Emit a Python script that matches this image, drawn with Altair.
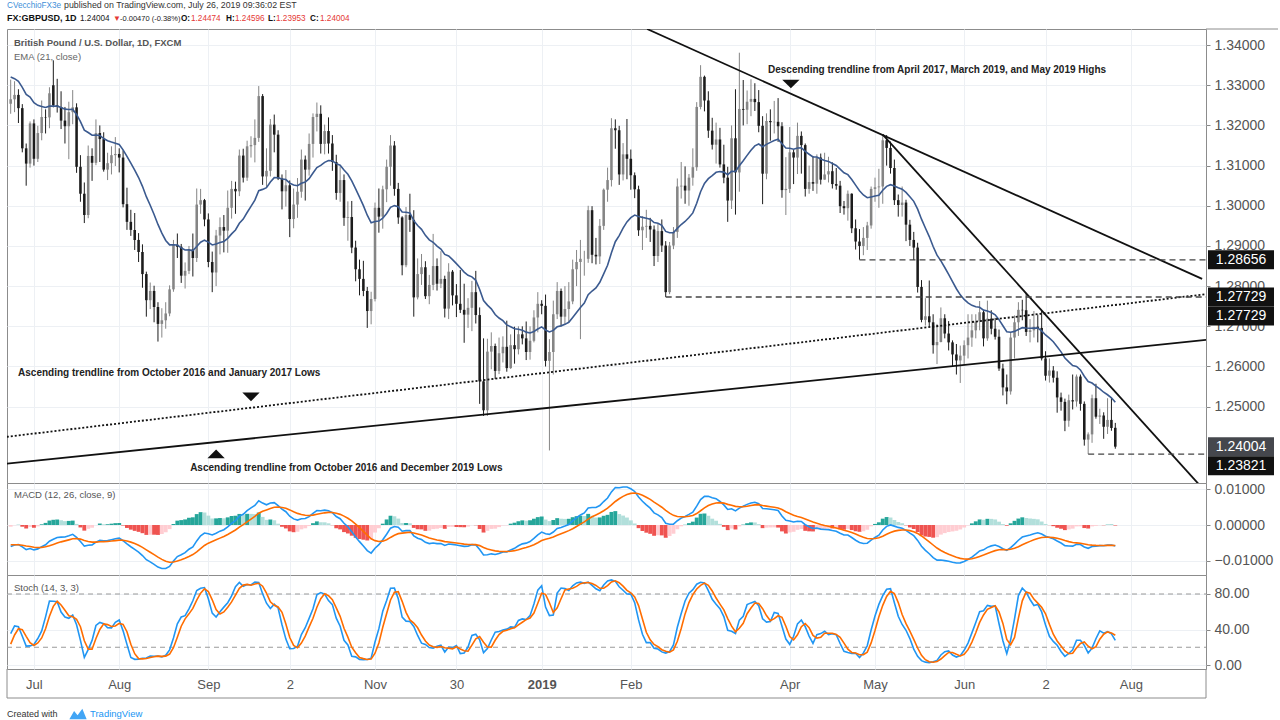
import altair as alt
import numpy as np
import pandas as pd

FONT = "Liberation Sans"
GRID = "#edf0f4"
AXC = "#555555"

# ---------------- warm-up history (May 1 - Jun 21, 2018) only to prime the indicators ----------------
pre_close = [1.3611, 1.3596, 1.3591, 1.3530, 1.3530, 1.3567, 1.3533, 1.3545, 1.3542, 1.3560,
             1.3488, 1.3510, 1.3513, 1.3465, 1.3453, 1.3427, 1.3374, 1.3367, 1.3310, 1.3320,
             1.3238, 1.3299, 1.3294, 1.3339, 1.3337, 1.3392, 1.3420, 1.3420, 1.3409, 1.3376,
             1.3363, 1.3398, 1.3262, 1.3274, 1.3241, 1.3173, 1.3180, 1.3254]
pre_high = [1.3775, 1.3656, 1.3618, 1.3604, 1.3566, 1.3586, 1.3592, 1.3590, 1.3570, 1.3613,
            1.3580, 1.3546, 1.3555, 1.3520, 1.3490, 1.3477, 1.3432, 1.3406, 1.3380, 1.3340,
            1.3323, 1.3313, 1.3330, 1.3350, 1.3370, 1.3415, 1.3472, 1.3470, 1.3433, 1.3437,
            1.3416, 1.3448, 1.3440, 1.3290, 1.3296, 1.3259, 1.3203, 1.3290]
pre_low = [1.3606, 1.3576, 1.3533, 1.3486, 1.3489, 1.3496, 1.3460, 1.3451, 1.3510, 1.3525,
           1.3460, 1.3450, 1.3480, 1.3448, 1.3388, 1.3400, 1.3305, 1.3320, 1.3301, 1.3290,
           1.3204, 1.3230, 1.3256, 1.3255, 1.3300, 1.3305, 1.3385, 1.3391, 1.3370, 1.3360,
           1.3352, 1.3340, 1.3248, 1.3205, 1.3230, 1.3160, 1.3102, 1.3143]

# ---------------- daily candles (open, high, low, close) ----------------
jun18 = [(1.3254, 1.3314, 1.3229, 1.3265), (1.3265, 1.3310, 1.3233, 1.3276), (1.3276, 1.3290, 1.3206, 1.3243),
         (1.3243, 1.3253, 1.3133, 1.3143), (1.3143, 1.3155, 1.3050, 1.3105), (1.3105, 1.3210, 1.3095, 1.3205)]
jul18 = [(1.3205, 1.3215, 1.3100, 1.3117), (1.3117, 1.3199, 1.3109, 1.3181), (1.3181, 1.3262, 1.3163, 1.3221),
         (1.3221, 1.3240, 1.3180, 1.3220), (1.3220, 1.3295, 1.3193, 1.3280), (1.3300, 1.3362, 1.3245, 1.3250),
         (1.3250, 1.3316, 1.3232, 1.3246), (1.3246, 1.3285, 1.3191, 1.3212), (1.3212, 1.3246, 1.3155, 1.3198),
         (1.3198, 1.3259, 1.3116, 1.3233), (1.3233, 1.3288, 1.3203, 1.3245), (1.3245, 1.3255, 1.3082, 1.3097),
         (1.3097, 1.3126, 1.3010, 1.3030), (1.3030, 1.3058, 1.2957, 1.2977), (1.2977, 1.3150, 1.2969, 1.3124),
         (1.3124, 1.3143, 1.3062, 1.3107), (1.3107, 1.3215, 1.3101, 1.3181), (1.3181, 1.3200, 1.3109, 1.3166),
         (1.3166, 1.3183, 1.3085, 1.3090), (1.3090, 1.3132, 1.3064, 1.3106), (1.3106, 1.3148, 1.3078, 1.3126),
         (1.3126, 1.3171, 1.3099, 1.3129)]
aug18 = [(1.3129, 1.3143, 1.3083, 1.3120), (1.3120, 1.3138, 1.2996, 1.3004), (1.3004, 1.3045, 1.2940, 1.2960),
         (1.2960, 1.2990, 1.2925, 1.2940), (1.2940, 1.2982, 1.2890, 1.2915), (1.2915, 1.2932, 1.2860, 1.2885),
         (1.2885, 1.2904, 1.2796, 1.2830), (1.2830, 1.2836, 1.2724, 1.2765), (1.2765, 1.2809, 1.2743, 1.2788),
         (1.2788, 1.2801, 1.2710, 1.2748), (1.2748, 1.2760, 1.2662, 1.2706), (1.2706, 1.2745, 1.2672, 1.2715),
         (1.2715, 1.2760, 1.2694, 1.2732), (1.2732, 1.2802, 1.2725, 1.2792), (1.2792, 1.2915, 1.2786, 1.2903),
         (1.2903, 1.2931, 1.2870, 1.2898), (1.2898, 1.2905, 1.2808, 1.2826), (1.2826, 1.2859, 1.2794, 1.2838),
         (1.2838, 1.2900, 1.2830, 1.2891), (1.2891, 1.2931, 1.2824, 1.2870), (1.2870, 1.3043, 1.2860, 1.3003),
         (1.3003, 1.3042, 1.2980, 1.3014), (1.3014, 1.3017, 1.2949, 1.2966)]
sep18 = [(1.2966, 1.2981, 1.2847, 1.2860), (1.2860, 1.2886, 1.2785, 1.2834), (1.2834, 1.2940, 1.2800, 1.2926),
         (1.2926, 1.2971, 1.2879, 1.2947), (1.2947, 1.2977, 1.2884, 1.2938), (1.2938, 1.3038, 1.2883, 1.2995),
         (1.2995, 1.3062, 1.2968, 1.3042), (1.3042, 1.3060, 1.2980, 1.3036), (1.3036, 1.3140, 1.3024, 1.3125),
         (1.3125, 1.3142, 1.3058, 1.3070), (1.3070, 1.3162, 1.3062, 1.3148), (1.3148, 1.3173, 1.3120, 1.3151),
         (1.3151, 1.3215, 1.3108, 1.3169), (1.3169, 1.3298, 1.3159, 1.3273), (1.3273, 1.3278, 1.3052, 1.3073),
         (1.3073, 1.3143, 1.3047, 1.3087), (1.3087, 1.3216, 1.3073, 1.3202), (1.3202, 1.3227, 1.3133, 1.3177),
         (1.3177, 1.3188, 1.3064, 1.3068), (1.3068, 1.3078, 1.2991, 1.3036)]
oct18 = [(1.3036, 1.3089, 1.2998, 1.3051), (1.3051, 1.3063, 1.2922, 1.2967), (1.2967, 1.3043, 1.2944, 1.3003),
         (1.3003, 1.3069, 1.2970, 1.3035), (1.3035, 1.3140, 1.3020, 1.3115), (1.3115, 1.3125, 1.3013, 1.3090),
         (1.3090, 1.3180, 1.3075, 1.3154), (1.3154, 1.3230, 1.3120, 1.3221), (1.3221, 1.3257, 1.3185, 1.3229),
         (1.3229, 1.3250, 1.3130, 1.3154), (1.3154, 1.3202, 1.3128, 1.3186), (1.3186, 1.3220, 1.3130, 1.3155),
         (1.3155, 1.3176, 1.3087, 1.3109), (1.3109, 1.3127, 1.3015, 1.3032), (1.3032, 1.3098, 1.3010, 1.3064),
         (1.3064, 1.3078, 1.2950, 1.2970), (1.2970, 1.3011, 1.2913, 1.2972), (1.2972, 1.3012, 1.2882, 1.2896),
         (1.2896, 1.2913, 1.2812, 1.2842), (1.2842, 1.2866, 1.2777, 1.2818), (1.2818, 1.2863, 1.2775, 1.2788),
         (1.2788, 1.2798, 1.2696, 1.2738), (1.2738, 1.2786, 1.2705, 1.2768)]
nov18 = [(1.2768, 1.3008, 1.2762, 1.2995), (1.2995, 1.3043, 1.2933, 1.2973), (1.2973, 1.3050, 1.2943, 1.3041),
         (1.3041, 1.3115, 1.3009, 1.3097), (1.3097, 1.3176, 1.3050, 1.3150), (1.3150, 1.3161, 1.3025, 1.3042),
         (1.3042, 1.3057, 1.2955, 1.2971), (1.2971, 1.2974, 1.2827, 1.2852), (1.2852, 1.2997, 1.2847, 1.2977),
         (1.2977, 1.3030, 1.2935, 1.2965), (1.2965, 1.2989, 1.2724, 1.2772), (1.2772, 1.2869, 1.2767, 1.2830),
         (1.2830, 1.2880, 1.2803, 1.2847), (1.2847, 1.2862, 1.2768, 1.2775), (1.2775, 1.2828, 1.2755, 1.2803),
         (1.2803, 1.2930, 1.2790, 1.2850), (1.2850, 1.2869, 1.2789, 1.2806), (1.2806, 1.2887, 1.2795, 1.2818),
         (1.2818, 1.2826, 1.2722, 1.2744), (1.2744, 1.2857, 1.2718, 1.2836), (1.2836, 1.2840, 1.2752, 1.2777),
         (1.2777, 1.2805, 1.2723, 1.2756)]
dec18 = [(1.2756, 1.2840, 1.2733, 1.2741), (1.2741, 1.2806, 1.2659, 1.2729), (1.2729, 1.2770, 1.2696, 1.2746),
         (1.2746, 1.2813, 1.2688, 1.2785), (1.2785, 1.2838, 1.2707, 1.2728), (1.2728, 1.2747, 1.2507, 1.2563),
         (1.2563, 1.2670, 1.2477, 1.2491), (1.2491, 1.2669, 1.2477, 1.2637), (1.2637, 1.2685, 1.2593, 1.2651),
         (1.2651, 1.2657, 1.2569, 1.2589), (1.2589, 1.2672, 1.2581, 1.2633), (1.2633, 1.2675, 1.2610, 1.2649),
         (1.2649, 1.2714, 1.2587, 1.2596), (1.2596, 1.2680, 1.2594, 1.2653), (1.2653, 1.2699, 1.2607, 1.2643),
         (1.2643, 1.2700, 1.2630, 1.2680), (1.2680, 1.2700, 1.2655, 1.2670), (1.2670, 1.2712, 1.2616, 1.2636),
         (1.2636, 1.2700, 1.2617, 1.2664), (1.2664, 1.2740, 1.2660, 1.2722), (1.2722, 1.2785, 1.2685, 1.2756)]
jan19 = [(1.2756, 1.2765, 1.2730, 1.2751), (1.2751, 1.2779, 1.2600, 1.2614), (1.2614, 1.2668, 1.2391, 1.2636),
         (1.2636, 1.2764, 1.2580, 1.2730), (1.2730, 1.2810, 1.2718, 1.2788), (1.2788, 1.2794, 1.2700, 1.2724),
         (1.2724, 1.2800, 1.2703, 1.2743), (1.2743, 1.2810, 1.2710, 1.2762), (1.2762, 1.2866, 1.2755, 1.2842),
         (1.2842, 1.2890, 1.2800, 1.2860), (1.2860, 1.2915, 1.2668, 1.2868), (1.2868, 1.2888, 1.2826, 1.2868),
         (1.2868, 1.3000, 1.2858, 1.2989), (1.2989, 1.2999, 1.2857, 1.2878), (1.2878, 1.2920, 1.2854, 1.2874),
         (1.2874, 1.2967, 1.2855, 1.2950), (1.2950, 1.3043, 1.2940, 1.3040), (1.3040, 1.3095, 1.3010, 1.3064),
         (1.3064, 1.3218, 1.3048, 1.3193), (1.3193, 1.3215, 1.3142, 1.3188), (1.3188, 1.3199, 1.3052, 1.3078),
         (1.3078, 1.3156, 1.3063, 1.3128), (1.3128, 1.3216, 1.3066, 1.3117)]
feb19 = [(1.3117, 1.3140, 1.3040, 1.3076), (1.3076, 1.3083, 1.3019, 1.3041), (1.3041, 1.3050, 1.2925, 1.2939),
         (1.2939, 1.2974, 1.2890, 1.2948), (1.2948, 1.2990, 1.2920, 1.2950), (1.2950, 1.2970, 1.2910, 1.2941),
         (1.2941, 1.2951, 1.2850, 1.2875), (1.2875, 1.2955, 1.2860, 1.2937), (1.2937, 1.2966, 1.2885, 1.2901),
         (1.2901, 1.2912, 1.2773, 1.2785), (1.2785, 1.2910, 1.2780, 1.2901), (1.2901, 1.2947, 1.2892, 1.2935),
         (1.2935, 1.3068, 1.2920, 1.3048), (1.3048, 1.3109, 1.3018, 1.3050), (1.3050, 1.3098, 1.3005, 1.3038),
         (1.3038, 1.3079, 1.3000, 1.3070), (1.3070, 1.3143, 1.3050, 1.3096), (1.3096, 1.3258, 1.3087, 1.3246),
         (1.3246, 1.3350, 1.3240, 1.3321), (1.3321, 1.3324, 1.3235, 1.3262)]
mar19 = [(1.3262, 1.3285, 1.3169, 1.3187), (1.3187, 1.3219, 1.3140, 1.3152), (1.3152, 1.3207, 1.3105, 1.3165),
         (1.3165, 1.3194, 1.3095, 1.3103), (1.3103, 1.3152, 1.3056, 1.3070), (1.3070, 1.3097, 1.2960, 1.3013),
         (1.3013, 1.3200, 1.2992, 1.3168), (1.3168, 1.3290, 1.2978, 1.3083), (1.3083, 1.3381, 1.3035, 1.3241),
         (1.3241, 1.3313, 1.3200, 1.3239), (1.3239, 1.3287, 1.3203, 1.3259), (1.3259, 1.3315, 1.3223, 1.3266),
         (1.3266, 1.3305, 1.3236, 1.3258), (1.3258, 1.3288, 1.3183, 1.3199), (1.3199, 1.3223, 1.3004, 1.3080),
         (1.3080, 1.3230, 1.3066, 1.3211), (1.3211, 1.3240, 1.3162, 1.3208), (1.3208, 1.3261, 1.3180, 1.3209),
         (1.3209, 1.3268, 1.3159, 1.3198), (1.3198, 1.3208, 1.3020, 1.3039), (1.3039, 1.3121, 1.2977, 1.3042)]
apr19 = [(1.3042, 1.3196, 1.3032, 1.3133), (1.3133, 1.3140, 1.3054, 1.3120), (1.3120, 1.3207, 1.3079, 1.3174),
         (1.3174, 1.3185, 1.3080, 1.3151), (1.3151, 1.3155, 1.3023, 1.3042), (1.3042, 1.3100, 1.3030, 1.3059),
         (1.3059, 1.3124, 1.3037, 1.3055), (1.3055, 1.3128, 1.3030, 1.3120), (1.3120, 1.3130, 1.3053, 1.3065),
         (1.3065, 1.3132, 1.3065, 1.3078), (1.3078, 1.3122, 1.3058, 1.3086), (1.3086, 1.3108, 1.3043, 1.3054),
         (1.3054, 1.3094, 1.3040, 1.3050), (1.3050, 1.3062, 1.2982, 1.2999), (1.2999, 1.3012, 1.2978, 1.2994),
         (1.2994, 1.3038, 1.2963, 1.3030), (1.3030, 1.3031, 1.2932, 1.2944), (1.2944, 1.2966, 1.2891, 1.2911),
         (1.2911, 1.2942, 1.2866, 1.2900), (1.2900, 1.2947, 1.2877, 1.2920), (1.2920, 1.2960, 1.2890, 1.2951),
         (1.2951, 1.3048, 1.2943, 1.3042)]
may19 = [(1.3042, 1.3070, 1.3010, 1.3046), (1.3046, 1.3092, 1.2995, 1.3048), (1.3048, 1.3177, 1.3005, 1.3163),
         (1.3163, 1.3176, 1.3100, 1.3144), (1.3144, 1.3160, 1.3080, 1.3094), (1.3094, 1.3115, 1.3002, 1.3014),
         (1.3014, 1.3028, 1.2973, 1.3002), (1.3002, 1.3048, 1.2973, 1.3008), (1.3008, 1.3015, 1.2912, 1.2953),
         (1.2953, 1.2965, 1.2900, 1.2915), (1.2915, 1.2935, 1.2865, 1.2896), (1.2896, 1.2908, 1.2784, 1.2798),
         (1.2798, 1.2815, 1.2710, 1.2716), (1.2716, 1.2770, 1.2702, 1.2725), (1.2725, 1.2814, 1.2700, 1.2710),
         (1.2710, 1.2730, 1.2632, 1.2653), (1.2653, 1.2706, 1.2606, 1.2661), (1.2661, 1.2747, 1.2660, 1.2720),
         (1.2720, 1.2730, 1.2670, 1.2682), (1.2682, 1.2713, 1.2640, 1.2660), (1.2660, 1.2665, 1.2600, 1.2630),
         (1.2630, 1.2656, 1.2580, 1.2615), (1.2615, 1.2652, 1.2559, 1.2627)]
jun19 = [(1.2627, 1.2665, 1.2603, 1.2653), (1.2653, 1.2730, 1.2620, 1.2672), (1.2672, 1.2730, 1.2649, 1.2690),
         (1.2690, 1.2730, 1.2670, 1.2712), (1.2712, 1.2763, 1.2690, 1.2735), (1.2735, 1.2740, 1.2650, 1.2670),
         (1.2670, 1.2764, 1.2664, 1.2719), (1.2719, 1.2740, 1.2680, 1.2694), (1.2694, 1.2721, 1.2667, 1.2674),
         (1.2674, 1.2692, 1.2589, 1.2595), (1.2595, 1.2607, 1.2528, 1.2548), (1.2548, 1.2580, 1.2506, 1.2538),
         (1.2538, 1.2686, 1.2530, 1.2672), (1.2672, 1.2727, 1.2620, 1.2710), (1.2710, 1.2760, 1.2676, 1.2741),
         (1.2741, 1.2766, 1.2715, 1.2740), (1.2740, 1.2783, 1.2676, 1.2686), (1.2686, 1.2718, 1.2660, 1.2690),
         (1.2690, 1.2738, 1.2672, 1.2699), (1.2699, 1.2729, 1.2660, 1.2696)]
jul19 = [(1.2696, 1.2740, 1.2615, 1.2620), (1.2620, 1.2638, 1.2565, 1.2577), (1.2577, 1.2620, 1.2560, 1.2590),
         (1.2590, 1.2601, 1.2560, 1.2572), (1.2572, 1.2588, 1.2485, 1.2523), (1.2523, 1.2535, 1.2490, 1.2512),
         (1.2512, 1.2520, 1.2439, 1.2465), (1.2465, 1.2530, 1.2450, 1.2516), (1.2516, 1.2580, 1.2493, 1.2513),
         (1.2513, 1.2580, 1.2500, 1.2575), (1.2575, 1.2580, 1.2490, 1.2507), (1.2507, 1.2513, 1.2403, 1.2418),
         (1.2418, 1.2436, 1.2382, 1.2431), (1.2431, 1.2530, 1.2410, 1.2521), (1.2521, 1.2557, 1.2470, 1.2475),
         (1.2475, 1.2495, 1.2457, 1.2478), (1.2478, 1.2486, 1.2420, 1.2450), (1.2450, 1.2521, 1.2432, 1.2467),
         (1.2467, 1.2522, 1.2440, 1.2447), (1.24474, 1.24596, 1.23953, 1.24004)]

# x-axis ticks (trading-day index) and their labels
tick_idx = [6, 28, 51, 72, 94, 115, 137, 160, 201, 223, 246, 267, 289]
tick_txt = ["Jul", "Aug", "Sep", "2", "Nov", "30", "2019", "Feb", "Apr", "May", "Jun", "2", "Aug"]
price_ticks = [1.25, 1.26, 1.27, 1.28, 1.29, 1.30, 1.31, 1.32, 1.33, 1.34]

# trendlines (trading-day index, price)
desc_long = [(164.2, 1.3440), (307.4, 1.2818)]
desc_steep = [(225.0, 1.3177), (316.0, 1.2206)]
asc_solid = [(-1.0, 1.2358), (308.4, 1.2666)]
asc_dotted = [(-1.0, 1.2425), (308.4, 1.2780)]
# horizontal dashed levels: (start index, price)
levels = [(169, 1.27729), (219, 1.28656), (278, 1.23821)]
# right-axis price tags: (shown centre price, text, fill)
tags = [(1.28656, "1.28656", "#111111"), (1.27729, "1.27729", "#111111"),
        (1.27259, "1.27729", "#111111"), (1.24004, "1.24004", "#45474d"),
        (1.23527, "1.23821", "#111111")]
notes = [(195.4, 1.33378, "Descending trendline from April 2017, March 2019, and May 2019 Highs"),
         (1.9, 1.25841, "Ascending trendline from October 2016 and January 2017 Lows"),
         (46.3, 1.23478, "Ascending trendline from October 2016 and December 2019 Lows")]
tri_down = [(201.3, 1.3303), (62.0, 1.25244)]
tri_up = [(53.0, 1.23826)]

# ---------------- build tables ----------------
rows = jun18 + jul18 + aug18 + sep18 + oct18 + nov18 + dec18 + jan19 + feb19 + mar19 + apr19 + may19 + jun19 + jul19
n = len(rows)
o = np.array([r[0] for r in rows]); h = np.array([r[1] for r in rows])
l = np.array([r[2] for r in rows]); c = np.array([r[3] for r in rows])
idx = np.arange(n)

C = np.r_[pre_close, c]; H = np.r_[pre_high, h]; L = np.r_[pre_low, l]


def ema(x, span):
    a = 2.0 / (span + 1)
    out = np.empty(len(x)); out[0] = x[0]
    for i in range(1, len(x)):
        out[i] = a * x[i] + (1 - a) * out[i - 1]
    return out


ema21 = ema(C, 21)
macd = ema(C, 12) - ema(C, 26)
sig = ema(macd, 9)
hist = macd - sig
prev = np.r_[hist[0], hist[:-1]]
hcol = np.where(hist >= 0, np.where(hist > prev, "#26A69A", "#B2DFDB"),
                np.where(hist < prev, "#EF5350", "#FFCDD2"))
raw = np.full(len(C), np.nan)
for i in range(13, len(C)):
    hh = H[i - 13:i + 1].max(); ll = L[i - 13:i + 1].min()
    raw[i] = 100 * (C[i] - ll) / (hh - ll)
k = pd.Series(raw).rolling(3).mean().to_numpy()
d = pd.Series(k).rolling(3).mean().to_numpy()

df = pd.DataFrame({
    "idx": idx, "o": o, "h": h, "l": l, "c": c,
    "dir": np.where(c >= o, "up", "down"),
    "bot": np.minimum(o, c), "top": np.maximum(o, c),
    "x0": idx - 0.33, "x1": idx + 0.33, "hx0": idx - 0.5, "hx1": idx + 0.5,
    "ema": ema21[-n:], "macd": macd[-n:], "sig": sig[-n:], "hist": hist[-n:],
    "hcol": hcol[-n:], "k": k[-n:], "d": d[-n:], "zero": 0.0,
})

XDOM = [-0.95, 308.4]
W = 1199
xs = alt.Scale(domain=XDOM, nice=False, zero=False)
ys_p = alt.Scale(domain=[1.2310, 1.3440], nice=False, zero=False)
ys_m = alt.Scale(domain=[-0.01389, 0.01167], nice=False, zero=False)
ys_s = alt.Scale(domain=[-4.5, 101.4], nice=False, zero=False)

x_hidden = alt.Axis(values=tick_idx, labels=False, ticks=False, domain=False, grid=True,
                    gridColor=GRID, title=None)
expr = "''"
for v, t in reversed(list(zip(tick_idx, tick_txt))):
    expr = f"datum.value == {v} ? '{t}' : ({expr})"
x_bottom = alt.Axis(values=tick_idx, labelExpr=expr, ticks=False, domain=False, grid=True,
                    gridColor=GRID, title=None, labelFont=FONT, labelFontSize=13, labelColor=AXC,
                    labelPadding=9, labelFlush=False,
                    labelFontWeight={"condition": {"test": "datum.value == 137", "value": "bold"},
                                     "value": "normal"})


def yaxis(vals, fmt):
    return alt.Axis(orient="right", values=vals, format=fmt, grid=True, gridColor=GRID, domain=False,
                    tickColor="#888888", tickSize=4, labelPadding=4, labelFont=FONT, labelFontSize=14,
                    labelColor=AXC, title=None, labelFlush=False, labelOverlap=False)


col_dir = alt.Color("dir:N", scale=alt.Scale(domain=["up", "down"], range=["#858585", "#1c1c1c"]), legend=None)


def pix_text(txt, x, y, size=9.5, color="#555555", weight="normal", align="left", baseline="middle"):
    return alt.Chart(pd.DataFrame({"t": [txt]})).mark_text(
        font=FONT, fontSize=size, fontWeight=weight, align=align, baseline=baseline
    ).encode(x=alt.value(x), y=alt.value(y), text="t:N", color=alt.value(color))


def pix_rule(x, x2, y, y2, color="#8c8c8c", width=1):
    return alt.Chart(pd.DataFrame({"a": [0]})).mark_rule(color=color, strokeWidth=width).encode(
        x=alt.value(x), x2=alt.value(x2), y=alt.value(y), y2=alt.value(y2))


# ---------------- price panel ----------------
wicks = alt.Chart(df).mark_rule(strokeWidth=1).encode(
    x=alt.X("idx:Q", scale=xs, axis=x_hidden),
    y=alt.Y("l:Q", scale=ys_p, axis=yaxis(price_ticks, ".5f")),
    y2="h:Q", color=col_dir)
bodies = alt.Chart(df).mark_rect().encode(
    x=alt.X("x0:Q", scale=xs), x2="x1:Q", y=alt.Y("bot:Q", scale=ys_p), y2="top:Q", color=col_dir)
ema_line = alt.Chart(df).mark_line(color="#3b5a8f", strokeWidth=1.6).encode(
    x=alt.X("idx:Q", scale=xs), y=alt.Y("ema:Q", scale=ys_p))


def tline(pts, dash=None):
    t = pd.DataFrame({"idx": [p[0] for p in pts], "price": [p[1] for p in pts]})
    kw = dict(color="#111111", strokeWidth=1.8, clip=True)
    if dash:
        kw["strokeDash"] = dash
    return alt.Chart(t).mark_line(**kw).encode(x=alt.X("idx:Q", scale=xs), y=alt.Y("price:Q", scale=ys_p))


lv = pd.DataFrame({"x0": [p[0] for p in levels], "x1": [XDOM[1]] * len(levels), "price": [p[1] for p in levels]})
lv_rules = alt.Chart(lv).mark_rule(color="#444444", strokeWidth=1.3, strokeDash=[6, 4]).encode(
    x=alt.X("x0:Q", scale=xs), x2="x1:Q", y=alt.Y("price:Q", scale=ys_p))

nt = pd.DataFrame({"idx": [p[0] for p in notes], "price": [p[1] for p in notes], "t": [p[2] for p in notes]})
note_text = alt.Chart(nt).mark_text(font=FONT, fontSize=10, fontWeight="bold", align="left",
                                    baseline="middle", color="#222222").encode(
    x=alt.X("idx:Q", scale=xs), y=alt.Y("price:Q", scale=ys_p), text="t:N")

td = pd.DataFrame({"idx": [p[0] for p in tri_down], "price": [p[1] for p in tri_down]})
tu = pd.DataFrame({"idx": [p[0] for p in tri_up], "price": [p[1] for p in tri_up]})
tri_d = alt.Chart(td).mark_point(shape="M-1,-0.5L1,-0.5L0,0.5Z", size=300, filled=True, color="#111111",
                                 opacity=1).encode(x=alt.X("idx:Q", scale=xs), y=alt.Y("price:Q", scale=ys_p))
tri_u = alt.Chart(tu).mark_point(shape="M-1,0.5L1,0.5L0,-0.5Z", size=300, filled=True, color="#111111",
                                 opacity=1).encode(x=alt.X("idx:Q", scale=xs), y=alt.Y("price:Q", scale=ys_p))

HALF = 9.5 / 4020
tg = pd.DataFrame({"ctr": [p[0] for p in tags], "t": [p[1] for p in tags], "fill": [p[2] for p in tags]})
tg["lo"] = tg["ctr"] - HALF
tg["hi"] = tg["ctr"] + HALF
tag_box = alt.Chart(tg).mark_rect().encode(
    x=alt.value(W + 2), x2=alt.value(W + 68), y=alt.Y("lo:Q", scale=ys_p), y2="hi:Q",
    color=alt.Color("fill:N", scale=None))
tag_txt = alt.Chart(tg).mark_text(font=FONT, fontSize=14, color="white", align="center", baseline="middle").encode(
    x=alt.value(W + 35), y=alt.Y("ctr:Q", scale=ys_p), text="t:N")

# header & legends (pixel placed UI text)
hdr = [pix_rule(0, 5, -28, -28, color="white")]
hdr.append(pix_text("CVecchioFX3e", 0, -21, size=8.2, color="#3d8fd9", baseline="alphabetic"))
hdr.append(pix_text("published on TradingView.com, July 26, 2019 09:36:02 EST", 57, -21, size=8.8,
                    color="#333333", baseline="alphabetic"))
seg = [("FX:GBPUSD, 1D", 0, "#111111", "bold", 9), ("1.24004", 73, "#222222", "normal", 8.2),
       ("\u25BC", 106, "#e53935", "normal", 8), ("-0.00470 (-0.38%)", 113, "#222222", "normal", 7.5),
       ("O:", 174, "#111111", "bold", 8.2), ("1.24474", 184, "#e53935", "normal", 8.2),
       ("H:", 219, "#111111", "bold", 8.2), ("1.24596", 228, "#e53935", "normal", 8.2),
       ("L:", 261, "#111111", "bold", 8.2), ("1.23953", 269, "#e53935", "normal", 8.2),
       ("C:", 303, "#111111", "bold", 8.2), ("1.24004", 313, "#e53935", "normal", 8.2)]
for t, x, colr, wgt, sz in seg:
    hdr.append(pix_text(t, x, -8.5, size=sz, color=colr, weight=wgt, baseline="alphabetic"))
hdr.append(pix_text("British Pound / U.S. Dollar, 1D, FXCM", 7, 14, size=9.5, color="#555555", weight="bold"))
hdr.append(pix_text("EMA (21, close)", 7, 28, size=9.5, color="#666666"))
hdr.append(pix_rule(W, W + 72, 0, 0))

price = alt.layer(
    wicks, bodies, ema_line,
    tline(desc_long), tline(desc_steep), tline(asc_solid), tline(asc_dotted, [2, 2]),
    lv_rules, note_text, tri_d, tri_u, tag_box, tag_txt, *hdr
).properties(width=W, height=454)

# ---------------- MACD panel ----------------
hist_bars = alt.Chart(df).mark_rect().encode(
    x=alt.X("hx0:Q", scale=xs, axis=x_hidden), x2="hx1:Q",
    y=alt.Y("hist:Q", scale=ys_m, axis=yaxis([-0.01, 0.0, 0.01], ".5f")), y2="zero:Q",
    color=alt.Color("hcol:N", scale=None))
macd_line = alt.Chart(df).mark_line(color="#2196F3", strokeWidth=1.6, clip=True).encode(
    x=alt.X("idx:Q", scale=xs), y=alt.Y("macd:Q", scale=ys_m))
sig_line = alt.Chart(df).mark_line(color="#FF6D00", strokeWidth=1.6, clip=True).encode(
    x=alt.X("idx:Q", scale=xs), y=alt.Y("sig:Q", scale=ys_m))
macd_panel = alt.layer(hist_bars, macd_line, sig_line,
                       pix_text("MACD (12, 26, close, 9)", 7, 12, size=9.5, color="#555555")
                       ).properties(width=W, height=92)

# ---------------- Stochastic panel ----------------
bands = pd.DataFrame({"v": [80, 20]})
band_rules = alt.Chart(bands).mark_rule(color="#9a9a9a", strokeWidth=1.2, strokeDash=[5, 4]).encode(
    x=alt.value(0), x2=alt.value(W), y=alt.Y("v:Q", scale=ys_s))
k_line = alt.Chart(df).mark_line(color="#2196F3", strokeWidth=1.6, clip=True).encode(
    x=alt.X("idx:Q", scale=xs, axis=x_bottom),
    y=alt.Y("k:Q", scale=ys_s, axis=yaxis([0, 40, 80], ".2f")))
d_line = alt.Chart(df).mark_line(color="#FF6D00", strokeWidth=1.6, clip=True).encode(
    x=alt.X("idx:Q", scale=xs), y=alt.Y("d:Q", scale=ys_s))
logo = alt.Chart(pd.DataFrame({"a": [0]})).mark_point(
    shape="M-1,0.6L-0.45,-0.35L-0.05,0.15L0.5,-0.6L1,0.6Z", size=300, filled=True,
    color="#42a5f5", opacity=1).encode(x=alt.value(71), y=alt.value(139))
stoch_panel = alt.layer(
    band_rules, k_line, d_line,
    pix_text("Stoch (14, 3, 3)", 7, 13, size=9.5, color="#555555"),
    pix_rule(0, W, 123, 123), pix_rule(0, 0, 94, 123), pix_rule(W, W, 94, 123),
    pix_text("Created with", 0, 139, size=9, color="#333333"), logo,
    pix_text("TradingView", 83, 139, size=9.5, color="#2196F3"),
).properties(width=W, height=94)

chart = alt.vconcat(price, macd_panel, stoch_panel, spacing=0, bounds="flush").properties(
    padding={"left": 5, "top": 0, "right": 0, "bottom": 0}, background="white"
).configure_view(stroke="#8c8c8c", strokeWidth=1)

chart.save("out.html", embed_options={"renderer": "svg", "actions": False})
